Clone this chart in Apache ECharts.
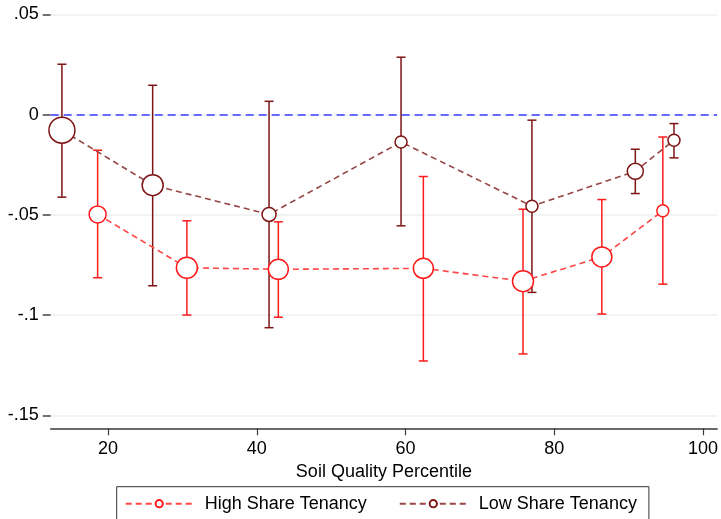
<!DOCTYPE html>
<html><head><meta charset="utf-8">
<script src="https://cdn.jsdelivr.net/npm/echarts@6/dist/echarts.min.js"></script>
<style>html,body{margin:0;padding:0;background:#fff}#c{width:721px;height:519px}</style>
</head><body><div id="c"></div>
<script>
const seriesNames = ['High Share Tenancy', 'Low Share Tenancy'];
const xAxisName = 'Soil Quality Percentile';
const xTicks = [20, 40, 60, 80, 100];
const yTicks = [-0.15, -0.1, -0.05, 0, 0.05];
const yTickLabels = ['-.15', '-.1', '-.05', '0', '.05'];

const highX   = [18.6, 30.6, 42.9, 62.4, 75.8, 86.4, 94.6];
const highY   = [-0.0498, -0.0764, -0.0772, -0.0767, -0.0831, -0.0710, -0.0480];
const highLo  = [-0.0814, -0.1000, -0.1011, -0.1229, -0.1194, -0.0995, -0.0846];
const highHi  = [-0.0178, -0.0530, -0.0535, -0.0309, -0.0472, -0.0424, -0.0112];
const highW   = [17, 21, 20, 20, 21, 20, 12];

const lowX    = [13.8, 26.0, 41.65, 59.4, 77.0, 90.9, 96.1];
const lowY    = [-0.0078, -0.0352, -0.0498, -0.0137, -0.0457, -0.0283, -0.0128];
const lowLo   = [-0.0412, -0.0854, -0.1063, -0.0555, -0.0887, -0.0394, -0.0216];
const lowHi   = [0.0251, 0.0146, 0.0066, 0.0286, -0.0028, -0.0173, -0.0045];
const lowW    = [26, 21, 14, 12, 12, 16, 12];

const FONT = 'Liberation Sans, Arial, Helvetica, sans-serif';
const HIGH_C = '#FF1A1A', HIGH_L = '#FF4545';
const LOW_C = '#7E1414', LOW_L = '#964646';

function errSeries(name, xs, lo, hi, color) {
  return {
    type: 'custom', name: name, silent: true, z: 2, animation: false,
    data: xs.map((x, i) => [x, lo[i], hi[i]]),
    renderItem: function (params, api) {
      const x = api.value(0);
      const a = api.coord([x, api.value(1)]);
      const b = api.coord([x, api.value(2)]);
      const w = 4.5;
      const st = { stroke: color, lineWidth: 1.5, fill: null };
      return { type: 'group', children: [
        { type: 'line', shape: { x1: a[0], y1: a[1], x2: b[0], y2: b[1] }, style: st },
        { type: 'line', shape: { x1: a[0] - w, y1: a[1], x2: a[0] + w, y2: a[1] }, style: st },
        { type: 'line', shape: { x1: b[0] - w, y1: b[1], x2: b[0] + w, y2: b[1] }, style: st }
      ]};
    }
  };
}

function lineSeries(name, xs, ys, sizes, mc, lc, z) {
  return {
    type: 'line', name: name, z: z, animation: false,
    data: xs.map((x, i) => [x, ys[i]]),
    symbol: 'circle', showAllSymbol: true,
    symbolSize: (v, p) => sizes[p.dataIndex],
    itemStyle: { color: '#fff', borderColor: mc, borderWidth: 1.5 },
    lineStyle: { color: lc, width: 1.6, type: [6, 4] },
    emphasis: { disabled: true }
  };
}

const chart = echarts.init(document.getElementById('c'), null, { renderer: 'canvas' });
const baseSeries = lineSeries(seriesNames[0], highX, highY, highW, HIGH_C, HIGH_L, 4);
baseSeries.markLine = {
  silent: true, symbol: 'none', label: { show: false }, animation: false,
  lineStyle: { color: '#3B3BFF', width: 1.6, type: [8, 5] },
  data: [{ yAxis: 0 }]
};
chart.setOption({
  backgroundColor: '#fff',
  animation: false,
  textStyle: { fontFamily: FONT },
  grid: { left: 50.7, right: 1, top: 14.3, bottom: 103.7 },
  xAxis: {
    type: 'value', min: 12.29, max: 101.9, offset: 13,
    name: xAxisName, nameLocation: 'middle', nameGap: 30,
    nameTextStyle: { fontSize: 18, color: '#000', fontFamily: FONT },
    axisLine: { show: true, onZero: false, lineStyle: { color: '#3a3a3a', width: 1.5 } },
    axisTick: { show: true, length: 7, customValues: xTicks, lineStyle: { color: '#3a3a3a', width: 1.2 } },
    axisLabel: { customValues: xTicks, margin: 12, fontSize: 18, color: '#000', fontFamily: FONT, showMaxLabel: true },
    splitLine: { show: false }
  },
  yAxis: {
    type: 'value', min: -0.15, max: 0.05, interval: 0.05,
    axisLine: { show: false },
    axisTick: { show: true, length: 8, lineStyle: { color: '#444', width: 1.5 } },
    axisLabel: {
      margin: 12, fontSize: 18, color: '#000', fontFamily: FONT,
      formatter: function (v) {
        const i = yTicks.findIndex(t => Math.abs(t - v) < 1e-9);
        return i >= 0 ? yTickLabels[i] : '';
      }
    },
    splitLine: { show: true, lineStyle: { color: '#EBF0F0', width: 1.5 } }
  },
  legend: {
    data: seriesNames,
    left: 116.7, top: 486.7,
    orient: 'horizontal',
    itemWidth: 67, itemHeight: 9, itemGap: 32,
    padding: [8, 12, 8, 8],
    borderColor: '#333', borderWidth: 1, backgroundColor: '#fff',
    selectedMode: false,
    textStyle: { fontSize: 18, color: '#000', fontFamily: FONT, padding: [0, 0, 0, 7] }
  },
  series: [
    errSeries('High CI', highX, highLo, highHi, HIGH_C),
    errSeries('Low CI', lowX, lowLo, lowHi, LOW_C),
    baseSeries,
    lineSeries(seriesNames[1], lowX, lowY, lowW, LOW_C, LOW_L, 5)
  ]
});
</script></body></html>
